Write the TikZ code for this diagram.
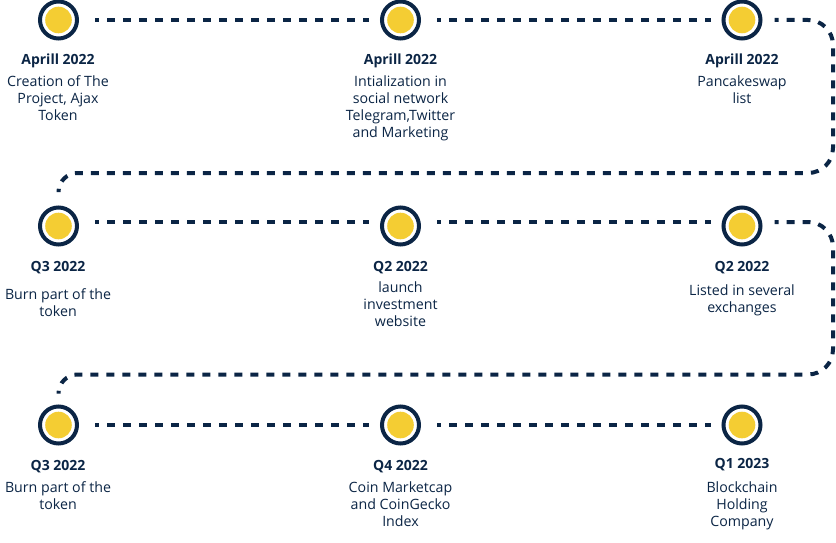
\documentclass[tikz,border=0pt]{standalone}
\usepackage{fontspec}
\setmainfont{Open Sans}
\definecolor{navy}{HTML}{0B2545}
\definecolor{gold}{HTML}{F4CD33}
\begin{document}
\begin{tikzpicture}[x=1pt,y=-1pt,
  dot/.style={circle, draw=navy, line width=4pt, fill=white, minimum size=37pt, inner sep=0pt,
    path picture={\fill[gold] (path picture bounding box.center) circle (13.3pt);}},
  link/.style={draw=navy, line width=4pt, dash pattern=on 8pt off 8pt, dash phase=4pt},
  ttl/.style={text=navy, font=\bfseries\fontsize{14}{17}\selectfont, inner sep=0pt, anchor=base},
  body/.style={text=navy, font=\fontsize{14.2}{17}\selectfont, inner sep=0pt, anchor=base}]
\newcommand{\lines}[1]{\begin{tabular}[t]{@{}c@{}}#1\end{tabular}}
\useasboundingbox (0,0) rectangle (836,543);
% circles
\node[dot] (a1) at (58.5,20) {};
\node[dot] (a2) at (400.5,20) {};
\node[dot] (a3) at (742,20) {};
\node[dot] (b1) at (58.5,226) {};
\node[dot] (b2) at (400.5,226) {};
\node[dot] (b3) at (742,226) {};
\node[dot] (c1) at (58.5,425) {};
\node[dot] (c2) at (400.5,425) {};
\node[dot] (c3) at (742,425) {};
% links
\draw[link] ([xshift=16pt]a1.east) -- ([xshift=-11pt]a2.west);
\draw[link] ([xshift=16pt]a2.east) -- ([xshift=-11pt]a3.west);
\draw[link, rounded corners=25pt] ([xshift=12pt]a3.east) -- (833,20) -- (833,173) -- (300,173)
  [rounded corners=19pt] -- (58.5,173) -- ([yshift=14pt]b1.north);
\draw[link] ([xshift=16pt,yshift=4pt]b1.east) -- ([xshift=-11pt,yshift=4pt]b2.west);
\draw[link] ([xshift=16pt,yshift=4pt]b2.east) -- ([xshift=-11pt,yshift=4pt]b3.west);
\draw[link, rounded corners=25pt] ([xshift=12pt,yshift=4pt]b3.east) -- (833,222) -- (833,374.5) -- (300,374.5)
  [rounded corners=19pt] -- (58.5,374.5) -- ([yshift=11.5pt]c1.north);
\draw[link] ([xshift=16pt]c1.east) -- ([xshift=-11pt]c2.west);
\draw[link] ([xshift=16pt]c2.east) -- ([xshift=-11pt]c3.west);
% row 1 texts
\node[ttl] (ta1) at (58,65) {Aprill 2022};
\node[body] (da1) at (58,87) {\lines{Creation of The\\Project, Ajax\\Token}};
\node[ttl] (ta2) at (400.5,64.5) {Aprill 2022};
\node[body] (da2) at (400.5,87) {\lines{Intialization in\\social network\\Telegram,Twitter\\and Marketing}};
\node[ttl] (ta3) at (742,65) {Aprill 2022};
\node[body] (da3) at (742,87) {\lines{Pancakeswap\\list}};
% row 2 texts
\node[ttl] (tb1) at (58,271) {Q3 2022};
\node[body] (db1) at (58,299) {\lines{Burn part of the\\token}};
\node[ttl] (tb2) at (400.5,271) {Q2 2022};
\node[body] (db2) at (400.5,292) {\lines{launch\\investment\\website}};
\node[ttl] (tb3) at (742,271) {Q2 2022};
\node[body] (db3) at (742,295.5) {\lines{Listed in several\\exchanges}};
% row 3 texts
\node[ttl] (tc1) at (58,470) {Q3 2022};
\node[body] (dc1) at (58,492) {\lines{Burn part of the\\token}};
\node[ttl] (tc2) at (400.5,470) {Q4 2022};
\node[body] (dc2) at (400.5,492) {\lines{Coin Marketcap\\and CoinGecko\\Index}};
\node[ttl] (tc3) at (742,468) {Q1 2023};
\node[body] (dc3) at (742,492) {\lines{Blockchain\\Holding\\Company}};
\end{tikzpicture}
\end{document}
